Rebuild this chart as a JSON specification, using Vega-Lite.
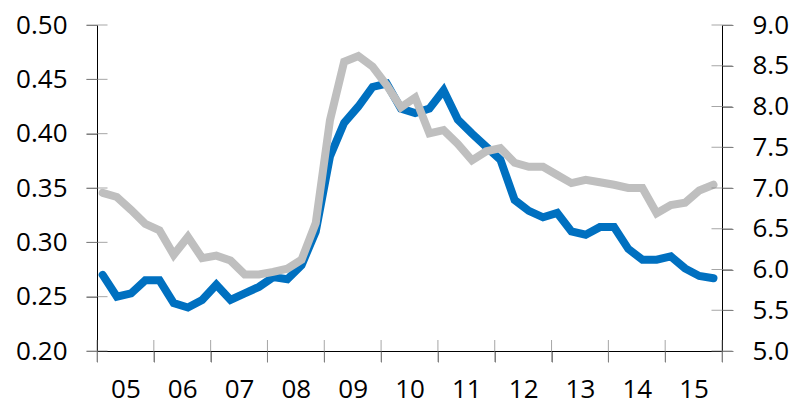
{
  "$schema": "https://vega.github.io/schema/vega-lite/v6.json",
  "width": 625,
  "height": 326,
  "autosize": {"type": "none"},
  "padding": {"left": 97, "top": 25, "right": 70, "bottom": 53},
  "config": {
    "view": {"stroke": null},
    "font": "Open Sans",
    "axis": {
      "grid": false,
      "domainColor": "#000000",
      "domainWidth": 1,
      "tickColor": "#808080",
      "tickSize": 11,
      "labelFont": "Open Sans",
      "labelFontSize": 26,
      "labelColor": "#000000",
      "title": null
    }
  },
  "datasets": {
    "series": [
      {"t": 2005.1, "blue": 0.270, "grey": 6.94},
      {"t": 2005.35, "blue": 0.250, "grey": 6.89},
      {"t": 2005.6, "blue": 0.253, "grey": 6.73},
      {"t": 2005.85, "blue": 0.265, "grey": 6.56},
      {"t": 2006.1, "blue": 0.265, "grey": 6.48},
      {"t": 2006.35, "blue": 0.244, "grey": 6.18},
      {"t": 2006.6, "blue": 0.240, "grey": 6.40},
      {"t": 2006.85, "blue": 0.247, "grey": 6.14},
      {"t": 2007.1, "blue": 0.261, "grey": 6.17},
      {"t": 2007.35, "blue": 0.247, "grey": 6.11},
      {"t": 2007.6, "blue": 0.253, "grey": 5.94},
      {"t": 2007.85, "blue": 0.259, "grey": 5.94},
      {"t": 2008.1, "blue": 0.268, "grey": 5.97},
      {"t": 2008.35, "blue": 0.266, "grey": 6.01},
      {"t": 2008.6, "blue": 0.279, "grey": 6.12},
      {"t": 2008.85, "blue": 0.310, "grey": 6.57},
      {"t": 2009.1, "blue": 0.379, "grey": 7.83},
      {"t": 2009.35, "blue": 0.410, "grey": 8.55},
      {"t": 2009.6, "blue": 0.425, "grey": 8.62},
      {"t": 2009.85, "blue": 0.443, "grey": 8.49},
      {"t": 2010.1, "blue": 0.446, "grey": 8.26},
      {"t": 2010.35, "blue": 0.423, "grey": 7.99},
      {"t": 2010.6, "blue": 0.419, "grey": 8.11},
      {"t": 2010.85, "blue": 0.423, "grey": 7.67},
      {"t": 2011.1, "blue": 0.440, "grey": 7.71},
      {"t": 2011.35, "blue": 0.413, "grey": 7.54},
      {"t": 2011.6, "blue": 0.400, "grey": 7.34},
      {"t": 2011.85, "blue": 0.388, "grey": 7.45},
      {"t": 2012.1, "blue": 0.376, "grey": 7.49},
      {"t": 2012.35, "blue": 0.339, "grey": 7.31},
      {"t": 2012.6, "blue": 0.329, "grey": 7.26},
      {"t": 2012.85, "blue": 0.323, "grey": 7.26},
      {"t": 2013.1, "blue": 0.327, "grey": 7.16},
      {"t": 2013.35, "blue": 0.310, "grey": 7.06},
      {"t": 2013.6, "blue": 0.307, "grey": 7.10},
      {"t": 2013.85, "blue": 0.314, "grey": 7.07},
      {"t": 2014.1, "blue": 0.314, "grey": 7.04},
      {"t": 2014.35, "blue": 0.294, "grey": 7.00},
      {"t": 2014.6, "blue": 0.284, "grey": 7.00},
      {"t": 2014.85, "blue": 0.284, "grey": 6.69},
      {"t": 2015.1, "blue": 0.287, "grey": 6.79},
      {"t": 2015.35, "blue": 0.276, "grey": 6.82},
      {"t": 2015.6, "blue": 0.269, "grey": 6.97},
      {"t": 2015.85, "blue": 0.267, "grey": 7.04}
    ],
    "xticks": [
      {"year": 2005}, {"year": 2006}, {"year": 2007}, {"year": 2008},
      {"year": 2009}, {"year": 2010}, {"year": 2011}, {"year": 2012},
      {"year": 2013}, {"year": 2014}, {"year": 2015}, {"year": 2016}
    ],
    "lticks": [
      {"v": 0.20}, {"v": 0.25}, {"v": 0.30}, {"v": 0.35},
      {"v": 0.40}, {"v": 0.45}, {"v": 0.50}
    ],
    "rticks": [
      {"v": 5.0}, {"v": 5.5}, {"v": 6.0}, {"v": 6.5}, {"v": 7.0},
      {"v": 7.5}, {"v": 8.0}, {"v": 8.5}, {"v": 9.0}
    ]
  },
  "layer": [
    {
      "layer": [
        {
          "data": {"name": "series"},
          "mark": {"type": "line", "color": "#0070C0", "strokeWidth": 8, "strokeCap": "round"},
          "encoding": {
            "x": {
              "field": "t",
              "type": "quantitative",
              "scale": {"domain": [2005, 2016], "nice": false, "zero": false},
              "axis": {
                "orient": "bottom",
                "values": [2005, 2006, 2007, 2008, 2009, 2010, 2011, 2012, 2013, 2014, 2015, 2016],
                "labelExpr": "datum.value < 2016 ? slice(toString(datum.value), 2) : ''",
                "labelOffset": 28.4,
                "labelPadding": 14,
                "labelFlush": false,
                "labelOverlap": false,
                "labelBound": false,
                "title": null
              }
            },
            "y": {
              "field": "blue",
              "type": "quantitative",
              "scale": {"domain": [0.2, 0.5], "nice": false, "zero": false},
              "axis": {
                "orient": "left",
                "values": [0.2, 0.25, 0.3, 0.35, 0.4, 0.45, 0.5],
                "format": ".2f",
                "labelPadding": 19,
                "labelFlush": false,
                "labelOverlap": false,
                "title": null
              }
            }
          }
        },
        {
          "data": {"name": "lticks"},
          "mark": {"type": "tick", "orient": "horizontal", "color": "#808080", "size": 21, "thickness": 1},
          "encoding": {
            "x": {"datum": 2005, "type": "quantitative"},
            "y": {"field": "v", "type": "quantitative"}
          }
        },
        {
          "data": {"name": "xticks"},
          "mark": {"type": "tick", "orient": "vertical", "color": "#808080", "size": 22, "thickness": 1},
          "encoding": {
            "x": {"field": "year", "type": "quantitative"},
            "y": {"datum": 0.2, "type": "quantitative"}
          }
        }
      ]
    },
    {
      "layer": [
        {
          "data": {"name": "series"},
          "mark": {"type": "line", "color": "#BFBFBF", "strokeWidth": 8, "strokeCap": "round"},
          "encoding": {
            "x": {"field": "t", "type": "quantitative"},
            "y": {
              "field": "grey",
              "type": "quantitative",
              "scale": {"domain": [5, 9], "nice": false, "zero": false},
              "axis": {
                "orient": "right",
                "values": [5, 5.5, 6, 6.5, 7, 7.5, 8, 8.5, 9],
                "format": ".1f",
                "labelPadding": 19,
                "labelFlush": false,
                "labelOverlap": false,
                "title": null
              }
            }
          }
        },
        {
          "data": {"name": "rticks"},
          "mark": {"type": "tick", "orient": "horizontal", "color": "#808080", "size": 21, "thickness": 1},
          "encoding": {
            "x": {"datum": 2016, "type": "quantitative"},
            "y": {"field": "v", "type": "quantitative"}
          }
        }
      ]
    }
  ],
  "resolve": {"scale": {"y": "independent"}}
}
